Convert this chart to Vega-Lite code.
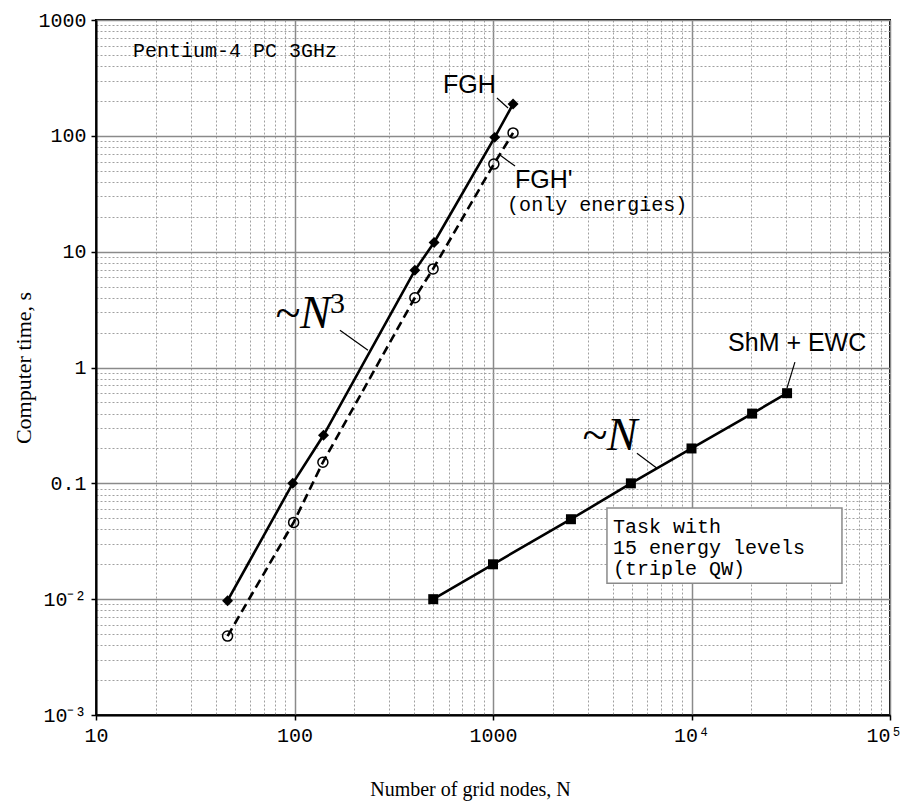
{
  "$schema": "https://vega.github.io/schema/vega-lite/v6.json",
  "width": 794,
  "height": 695,
  "autosize": "none",
  "padding": {"left": 96, "top": 20, "right": 16, "bottom": 90},
  "background": "white",
  "config": {
    "view": {"stroke": "black", "strokeWidth": 2}
  },
  "datasets": {
    "fgh": [
      {"N": 46, "t": 0.0097}, {"N": 98, "t": 0.1}, {"N": 140, "t": 0.26},
      {"N": 404, "t": 6.9}, {"N": 505, "t": 12}, {"N": 1020, "t": 97}, {"N": 1262, "t": 188}
    ],
    "fghp": [
      {"N": 46, "t": 0.0048}, {"N": 99, "t": 0.046}, {"N": 139, "t": 0.152},
      {"N": 404, "t": 4.0}, {"N": 499, "t": 7.1}, {"N": 1010, "t": 57}, {"N": 1262, "t": 106}
    ],
    "shm": [
      {"N": 500, "t": 0.01}, {"N": 1000, "t": 0.02}, {"N": 2470, "t": 0.049},
      {"N": 4950, "t": 0.1}, {"N": 10000, "t": 0.2}, {"N": 20200, "t": 0.4}, {"N": 30300, "t": 0.6}
    ],
    "leaders": [
      {"N": 1047, "t": 212, "N2": 1191, "t2": 174},
      {"N": 1084, "t": 68.2, "N2": 1291, "t2": 54.8},
      {"N": 169.4, "t": 2.1, "N2": 234.5, "t2": 1.41},
      {"N": 5309, "t": 0.182, "N2": 6699, "t2": 0.135},
      {"N": 33190, "t": 1.113, "N2": 30270, "t2": 0.664}
    ],
    "box": [{"N": 3751, "t": 0.0611, "N2": 57280, "t2": 0.01374}],
    "mono": [
      {"label": "Pentium-4 PC 3GHz", "N": 15.35, "t": 540},
      {"label": "(only energies)", "N": 1178, "t": 25.2},
      {"label": "Task with", "N": 4027, "t": 0.0419},
      {"label": "15 energy levels", "N": 4027, "t": 0.02754},
      {"label": "(triple QW)", "N": 4027, "t": 0.01815}
    ],
    "sans": [
      {"label": "FGH", "N": 560, "t": 275},
      {"label": "FGH'", "N": 1291, "t": 41.5},
      {"label": "ShM + EWC", "N": 15280, "t": 1.63}
    ],
    "italic": [
      {"label": "~N", "N": 79.8, "t": 2.19},
      {"label": "~N", "N": 2806, "t": 0.194}
    ],
    "sup": [{"label": "3", "N": 151, "t": 2.95}]
  },
  "encoding": {
    "x": {
      "field": "N", "type": "quantitative",
      "scale": {"type": "log", "domain": [10, 100000], "nice": false},
      "axis": {
        "title": "Number of grid nodes, N",
        "values": [10,20,30,40,50,60,70,80,90,100,200,300,400,500,600,700,800,900,1000,2000,3000,4000,5000,6000,7000,8000,9000,10000,20000,30000,40000,50000,60000,70000,80000,90000,100000],
        "labelExpr": "datum.value == 10 ? '10' : datum.value == 100 ? '100' : datum.value == 1000 ? '1000' : datum.value == 10000 ? '10⁴' : datum.value == 100000 ? '10⁵' : ''",
        "labelFont": "Liberation Mono", "labelFontSize": 20, "labelColor": "black",
        "labelPadding": 5, "labelFlush": false, "labelOverlap": false,
        "labelOffset": {"condition": {"test": "datum.value == 100000", "value": -6}, "value": 0},
        "tickSize": 5, "tickColor": "black", "tickWidth": 1.5,
        "tickOpacity": {"condition": {"test": "abs(log(datum.value)/LN10 - round(log(datum.value)/LN10)) < 1e-6", "value": 1}, "value": 0},
        "domainColor": "black", "domainWidth": 2,
        "grid": true,
        "gridColor": {"condition": {"test": "abs(log(datum.value)/LN10 - round(log(datum.value)/LN10)) < 1e-6", "value": "#8a8a8a"}, "value": "#a0a0a0"},
        "gridDash": {"condition": {"test": "abs(log(datum.value)/LN10 - round(log(datum.value)/LN10)) < 1e-6", "value": []}, "value": [2, 2]},
        "gridWidth": {"condition": {"test": "abs(log(datum.value)/LN10 - round(log(datum.value)/LN10)) < 1e-6", "value": 1.5}, "value": 1},
        "titleFont": "Liberation Serif", "titleFontSize": 20, "titleFontWeight": "normal", "titleColor": "black",
        "titlePadding": 34, "titleX": 374
      }
    },
    "y": {
      "field": "t", "type": "quantitative",
      "scale": {"type": "log", "domain": [0.001, 1000], "nice": false},
      "axis": {
        "title": "Computer time, s",
        "values": [0.001,0.002,0.003,0.004,0.005,0.006,0.007,0.008,0.009,0.01,0.02,0.03,0.04,0.05,0.06,0.07,0.08,0.09,0.1,0.2,0.3,0.4,0.5,0.6,0.7,0.8,0.9,1,2,3,4,5,6,7,8,9,10,20,30,40,50,60,70,80,90,100,200,300,400,500,600,700,800,900,1000],
        "labelExpr": "datum.value == 1000 ? '1000' : datum.value == 100 ? '100' : datum.value == 10 ? '10' : datum.value == 1 ? '1' : datum.value == 0.1 ? '0.1' : datum.value == 0.01 ? '10⁻²' : datum.value == 0.001 ? '10⁻³' : ''",
        "labelFont": "Liberation Mono", "labelFontSize": 20, "labelColor": "black",
        "labelPadding": 5, "labelFlush": false, "labelOverlap": false,
        "tickSize": 5, "tickColor": "black", "tickWidth": 1.5,
        "tickOpacity": {"condition": {"test": "abs(log(datum.value)/LN10 - round(log(datum.value)/LN10)) < 1e-6", "value": 1}, "value": 0},
        "domainColor": "black", "domainWidth": 2,
        "grid": true,
        "gridColor": {"condition": {"test": "abs(log(datum.value)/LN10 - round(log(datum.value)/LN10)) < 1e-6", "value": "#8a8a8a"}, "value": "#a0a0a0"},
        "gridDash": {"condition": {"test": "abs(log(datum.value)/LN10 - round(log(datum.value)/LN10)) < 1e-6", "value": []}, "value": [2, 2]},
        "gridWidth": {"condition": {"test": "abs(log(datum.value)/LN10 - round(log(datum.value)/LN10)) < 1e-6", "value": 1.5}, "value": 1},
        "titleFont": "Liberation Serif", "titleFontSize": 22, "titleFontWeight": "normal", "titleColor": "black",
        "titlePadding": 2
      }
    }
  },
  "layer": [
    {"data": {"name": "box"}, "mark": {"type": "rect", "fill": "white", "stroke": "#8a8a8a", "strokeWidth": 1.5}, "encoding": {"x2": {"field": "N2"}, "y2": {"field": "t2"}}},
    {"data": {"name": "leaders"}, "mark": {"type": "rule", "color": "black", "strokeWidth": 1.2}, "encoding": {"x2": {"field": "N2"}, "y2": {"field": "t2"}}},
    {"data": {"name": "fgh"}, "mark": {"type": "line", "color": "black", "strokeWidth": 2.6}, "encoding": {}},
    {"data": {"name": "fghp"}, "mark": {"type": "line", "color": "black", "strokeWidth": 2.6, "strokeDash": [9, 5]}, "encoding": {}},
    {"data": {"name": "shm"}, "mark": {"type": "line", "color": "black", "strokeWidth": 2.6}, "encoding": {}},
    {"data": {"name": "fgh"}, "mark": {"type": "point", "shape": "diamond", "filled": true, "color": "black", "size": 120, "opacity": 1}},
    {"data": {"name": "fghp"}, "mark": {"type": "point", "shape": "circle", "filled": false, "color": "black", "strokeWidth": 1.5, "size": 100, "opacity": 1}},
    {"data": {"name": "shm"}, "mark": {"type": "point", "shape": "square", "filled": true, "color": "black", "size": 100, "opacity": 1}},
    {"data": {"name": "mono"}, "mark": {"type": "text", "font": "Liberation Mono", "fontSize": 20, "align": "left", "baseline": "middle", "color": "black"}, "encoding": {"text": {"field": "label"}}},
    {"data": {"name": "sans"}, "mark": {"type": "text", "font": "Liberation Sans", "fontSize": 25, "align": "left", "baseline": "middle", "color": "black"}, "encoding": {"text": {"field": "label"}}},
    {"data": {"name": "italic"}, "mark": {"type": "text", "font": "Liberation Serif", "fontStyle": "italic", "fontSize": 46, "align": "left", "baseline": "alphabetic", "color": "black"}, "encoding": {"text": {"field": "label"}}},
    {"data": {"name": "sup"}, "mark": {"type": "text", "font": "Liberation Serif", "fontSize": 30, "align": "left", "baseline": "alphabetic", "color": "black"}, "encoding": {"text": {"field": "label"}}}
  ]
}
